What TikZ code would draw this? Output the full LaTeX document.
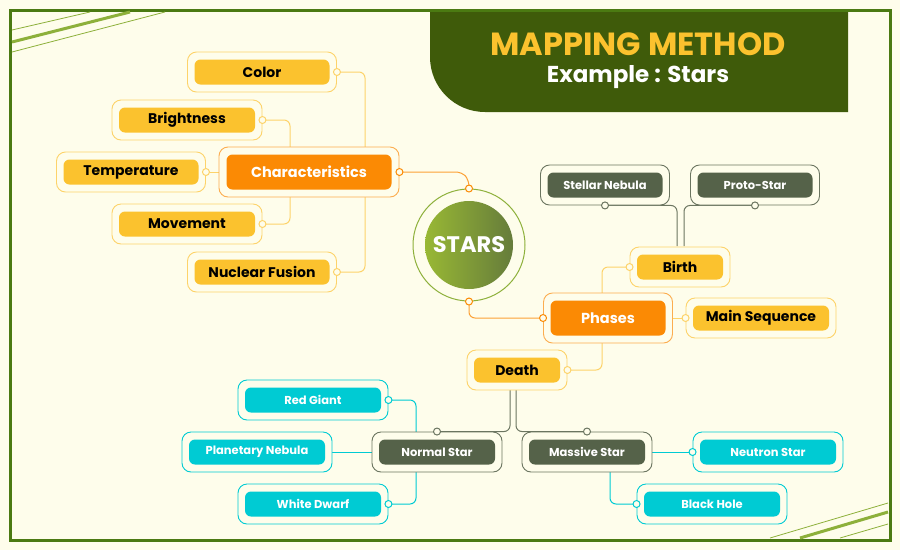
\documentclass[tikz,border=0pt]{standalone}
\usepackage{fontspec}
\setmainfont{Poppins}
\usetikzlibrary{backgrounds}
\definecolor{bgcream}{HTML}{FEFDEB}
\definecolor{framegreen}{HTML}{4B7A12}
\definecolor{titlegreen}{HTML}{3F5B0A}
\definecolor{leafgreen}{HTML}{8DB03A}
\definecolor{sunyellow}{HTML}{FBC22E}
\definecolor{sunline}{HTML}{FDD36A}
\definecolor{flameorange}{HTML}{FB8A04}
\definecolor{slategreen}{HTML}{556249}
\definecolor{slateline}{HTML}{6B7560}
\definecolor{aqua}{HTML}{00CBD3}
\tikzset{
  card/.style={draw, rounded corners=9pt, fill=bgcream, line width=0.9pt, minimum height=40pt, inner sep=0pt},
  tag/.style={rounded corners=6pt, minimum height=25pt, inner sep=0pt, font=\bfseries},
  cardY/.style={card, draw=sunline}, tagY/.style={tag, fill=sunyellow, text=black, font=\bfseries\fontsize{14}{16}\selectfont},
  cardO/.style={card, draw=flameorange!70, minimum height=50pt}, tagO/.style={tag, fill=flameorange, text=white, minimum height=35pt, font=\bfseries\fontsize{14.5}{16}\selectfont},
  cardS/.style={card, draw=slateline}, tagS/.style={tag, fill=slategreen, text=white, font=\bfseries\fontsize{11.5}{13}\selectfont},
  cardC/.style={card, draw=aqua}, tagC/.style={tag, fill=aqua, text=white, font=\bfseries\fontsize{11.5}{13}\selectfont},
  linkY/.style={draw=sunline, line width=1pt, rounded corners=6pt},
  linkO/.style={draw=flameorange!80, line width=1pt, rounded corners=6pt},
  linkS/.style={draw=slateline, line width=1pt, rounded corners=6pt},
  linkC/.style={draw=aqua, line width=1pt, rounded corners=6pt},
  knob/.style={circle, draw, fill=bgcream, line width=1pt, inner sep=0pt, minimum size=7pt},
}
\begin{document}
\begin{tikzpicture}[x=1pt,y=-1pt]
\useasboundingbox (0,0) rectangle (900,550);

% title
\fill[titlegreen] (430,10) [rounded corners=55pt]-- (430,112) [sharp corners]-- (848,112) -- (848,10) -- cycle;
\node[text=sunyellow, font=\bfseries\fontsize{32}{36}\selectfont] (title) at (638,44) {MAPPING METHOD};
\node[text=white, font=\bfseries\fontsize{23}{26}\selectfont] (subtitle) at (638,77) {Example : Stars};

% frame and corner strokes
\draw[framegreen, line width=3pt] (10,10) rectangle (890,540);
\draw[leafgreen, line width=3pt] (12,42) -- (130,12);
\draw[leafgreen, line width=0.8pt] (12,30) -- (90,12);
\draw[leafgreen, line width=0.8pt] (12,52) -- (165,12);
\draw[leafgreen, line width=3pt] (800,538) -- (888,512);
\draw[leafgreen, line width=0.8pt] (770,538) -- (888,503);
\draw[leafgreen, line width=0.8pt] (840,538) -- (888,524);

% centre
\node[circle, draw=leafgreen, fill=bgcream, line width=1pt, minimum size=112pt] (stars) at (469,245) {};
\node[circle, left color=leafgreen!90!yellow, right color=titlegreen!80, minimum size=88pt, text=white, font=\bfseries\fontsize{22.5}{26}\selectfont] at (stars) {STARS};

% characteristics
\node[cardO, minimum width=180pt] (chars) at (309,172) {};
\node[tagO, minimum width=165pt] at (chars) {Characteristics};
\node[cardY, minimum width=149pt] (color) at (262,72) {};
\node[tagY, minimum width=135pt] at (color) {Color};
\node[cardY, minimum width=150pt] (bright) at (187,120) {};
\node[tagY, minimum width=136pt] at (bright) {Brightness};
\node[cardY, minimum width=149pt] (temp) at (131,172) {};
\node[tagY, minimum width=135pt] at (temp) {Temperature};
\node[cardY, minimum width=150pt] (move) at (187,224) {};
\node[tagY, minimum width=136pt] at (move) {Movement};
\node[cardY, minimum width=149pt] (fusion) at (262,272) {};
\node[tagY, minimum width=135pt] at (fusion) {Nuclear Fusion};

% phases
\node[cardO, minimum width=129pt] (phases) at (608,318) {};
\node[tagO, minimum width=115pt] at (phases) {Phases};
\node[cardY, minimum width=100pt] (birth) at (680,267) {};
\node[tagY, minimum width=86pt] at (birth) {Birth};
\node[cardY, minimum width=150pt] (mainseq) at (761,318) {};
\node[tagY, minimum width=136pt] at (mainseq) {Main Sequence};
\node[cardY, minimum width=100pt] (death) at (517,370) {};
\node[tagY, minimum width=86pt] at (death) {Death};
\node[cardS, minimum width=129pt] (nebula) at (605,185) {};
\node[tagS, minimum width=115pt] at (nebula) {Stellar Nebula};
\node[cardS, minimum width=129pt] (proto) at (755,185) {};
\node[tagS, minimum width=115pt] at (proto) {Proto-Star};
\node[cardS, minimum width=130pt] (normal) at (437,452) {};
\node[tagS, minimum width=116pt] at (normal) {Normal Star};
\node[cardS, minimum width=130pt] (massive) at (587,452) {};
\node[tagS, minimum width=116pt] at (massive) {Massive Star};
\node[cardC, minimum width=150pt] (redgiant) at (313,400) {};
\node[tagC, minimum width=136pt] at (redgiant) {Red Giant};
\node[cardC, minimum width=150pt] (planetary) at (257,452) {};
\node[tagC, minimum width=136pt] at (planetary) {Planetary Nebula};
\node[cardC, minimum width=150pt] (dwarf) at (313,504) {};
\node[tagC, minimum width=136pt] at (dwarf) {White Dwarf};
\node[cardC, minimum width=150pt] (neutron) at (768,452) {};
\node[tagC, minimum width=136pt] at (neutron) {Neutron Star};
\node[cardC, minimum width=150pt] (blackhole) at (712,504) {};
\node[tagC, minimum width=136pt] at (blackhole) {Black Hole};

% links, behind the cards
\begin{pgfonlayer}{background}
\fill[bgcream] (0,0) rectangle (900,550);
\draw[linkY] (color.east) -- (365,72) -- (365,272) -- (fusion.east);
\draw[linkY] (bright.east) -| (290,148);
\draw[linkY] (move.east) -| (290,197);
\draw[linkY] (temp.east) -- (chars.west);
\draw[linkO] (chars.east) -- (462,172) -- (469,180) -- (stars.north);
\draw[linkO] (stars.south) |- (phases.west);
\draw[linkY] (602,293) |- (birth.west);
\draw[linkY] (602,343) |- (death.east);
\draw[linkY] (phases.east) -- (mainseq.west);
\draw[linkS] (677,246) |- (nebula.south);
\draw[linkS] (684,246) |- (proto.south);
\draw[linkS] (510,390) |- (normal.north);
\draw[linkS] (516,390) |- (massive.north);
\draw[linkC] (redgiant.east) -| (416,432);
\draw[linkC] (dwarf.east) -| (416,472);
\draw[linkC] (planetary.east) -- (normal.west);
\draw[linkC] (massive.east) -- (neutron.west);
\draw[linkC] (610,472) |- (blackhole.west);
\end{pgfonlayer}

% knobs
\foreach \n in {color,bright,fusion,move,temp}
  \node[knob, draw=sunline] at (\n.east) {};
\node[knob, draw=flameorange] at (chars.east) {};
\node[knob, draw=flameorange] at (stars.north) {};
\node[knob, draw=flameorange] at (stars.south) {};
\node[knob, draw=flameorange] at (phases.west) {};
\node[knob, draw=sunline] at (birth.west) {};
\node[knob, draw=sunline] at (death.east) {};
\node[knob, draw=sunline] at (mainseq.west) {};
\foreach \n in {nebula,proto}
  \node[knob, draw=slateline] at (\n.south) {};
\foreach \n in {normal,massive}
  \node[knob, draw=slateline] at (\n.north) {};
\foreach \n in {redgiant,dwarf}
  \node[knob, draw=aqua] at (\n.east) {};
\foreach \n in {neutron,blackhole}
  \node[knob, draw=aqua] at (\n.west) {};
\end{tikzpicture}
\end{document}
